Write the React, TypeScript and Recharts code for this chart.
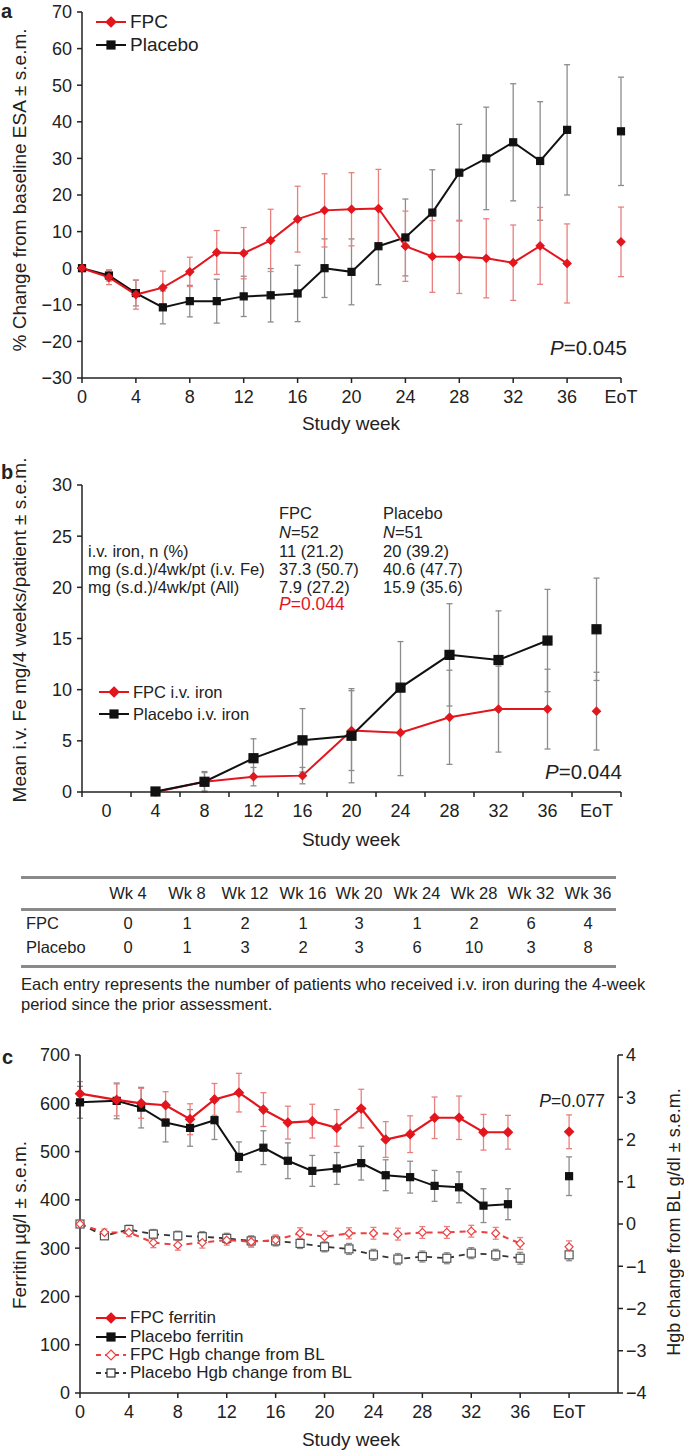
import React from 'react';
import { ComposedChart, Line, XAxis, YAxis, ErrorBar } from 'recharts';

const FONT = '"Liberation Sans", Arial, Helvetica, sans-serif';
const RED = '#e3161e';
const RED_ERR = '#e98080';
const BLACK = '#111';
const GREY_ERR = '#8c8c8c';
const INK = '#222';

// ---- panel a: % change from baseline ESA
const esaWeeks = [0, 2, 4, 6, 8, 10, 12, 14, 16, 18, 20, 22, 24, 26, 28, 30, 32, 34, 36];
const fpcEsa = [0, -2.5, -7.2, -5.3, -1.0, 4.3, 4.1, 7.6, 13.4, 15.8, 16.1, 16.3, 6.0, 3.2, 3.1, 2.7, 1.5, 6.1, 1.3];
const fpcEsaSem = [0, 2.0, 4.0, 4.5, 4.0, 6.0, 7.0, 8.5, 9.0, 10.0, 10.0, 10.7, 9.6, 9.8, 10.0, 10.8, 10.3, 10.5, 10.8];
const placeboEsa = [0, -2.0, -6.8, -10.7, -9.0, -9.0, -7.7, -7.4, -6.9, 0, -1.0, 6.0, 8.4, 15.2, 26.1, 30.0, 34.4, 29.3, 37.8];
const placeboEsaSem = [0, 1.5, 3.5, 4.5, 4.3, 6.0, 5.5, 7.3, 7.7, 8.0, 9.0, 10.5, 10.5, 11.7, 13.2, 14.0, 16.0, 16.2, 17.8];
const esaEot = { fpc: 7.2, fpcSem: 9.5, pbo: 37.4, pboSem: 14.8 };
const esaYTicks = [-30, -20, -10, 0, 10, 20, 30, 40, 50, 60, 70];

// ---- panel b: mean i.v. iron
const ivCategories = ['0', '4', '8', '12', '16', '20', '24', '28', '32', '36', 'EoT'];
const fpcIron = [null, 0, 1.0, 1.5, 1.6, 6.0, 5.8, 7.3, 8.1, 8.1, 7.9];
const fpcIronSem = [null, 0, 0.9, 0.9, 0.8, 3.9, 4.2, 4.6, 4.2, 3.9, 3.8];
const placeboIron = [null, 0.05, 1.0, 3.3, 5.05, 5.5, 10.2, 13.4, 12.9, 14.8, 15.9];
const placeboIronSem = [null, 0, 1.0, 1.9, 3.1, 4.6, 4.5, 5.0, 4.8, 5.0, 5.0];
const ivYTicks = [0, 5, 10, 15, 20, 25, 30];

// ---- table under panel b
const tableWeeks = ['Wk 4', 'Wk 8', 'Wk 12', 'Wk 16', 'Wk 20', 'Wk 24', 'Wk 28', 'Wk 32', 'Wk 36'];
const fpcCounts = [0, 1, 2, 1, 3, 1, 2, 6, 4];
const placeboCounts = [0, 1, 3, 2, 3, 6, 10, 3, 8];

// ---- panel c: ferritin and Hgb
const ferritinWeeks = [0, 3, 5, 7, 9, 11, 13, 15, 17, 19, 21, 23, 25, 27, 29, 31, 33, 35];
const fpcFerritin = [620, 607, 600, 596, 567, 608, 622, 587, 560, 563, 549, 589, 525, 536, 570, 570, 540, 540];
const fpcFerritinSem = [25, 33, 31, 28, 32, 33, 40, 35, 34, 35, 38, 40, 37, 38, 43, 45, 37, 35];
const placeboFerritin = [602, 605, 591, 560, 549, 565, 489, 508, 481, 460, 465, 476, 451, 447, 429, 426, 388, 391];
const placeboFerritinSem = [33, 37, 42, 40, 38, 40, 31, 35, 37, 32, 33, 35, 32, 33, 32, 32, 35, 32];
const ferritinEot = { fpc: 541, fpcSem: 35, pbo: 449, pboSem: 40 };
const hgbWeeks = [0, 2, 4, 6, 8, 10, 12, 14, 16, 18, 20, 22, 24, 26, 28, 30, 32, 34, 36];
const fpcHgb = [0, -0.2, -0.2, -0.44, -0.5, -0.44, -0.38, -0.42, -0.38, -0.22, -0.3, -0.22, -0.22, -0.24, -0.2, -0.2, -0.17, -0.22, -0.46];
const fpcHgbSem = [0, 0.08, 0.1, 0.12, 0.12, 0.13, 0.12, 0.13, 0.12, 0.13, 0.13, 0.13, 0.14, 0.14, 0.14, 0.14, 0.14, 0.14, 0.14];
const placeboHgb = [0, -0.28, -0.13, -0.24, -0.28, -0.3, -0.34, -0.4, -0.4, -0.46, -0.54, -0.59, -0.73, -0.83, -0.77, -0.81, -0.69, -0.73, -0.81];
const placeboHgbSem = [0, 0.08, 0.1, 0.11, 0.11, 0.12, 0.12, 0.12, 0.12, 0.12, 0.12, 0.13, 0.13, 0.13, 0.13, 0.13, 0.13, 0.13, 0.14];
const hgbEot = { fpc: -0.54, fpcSem: 0.14, pbo: -0.73, pboSem: 0.14 };
const ferritinYTicks = [0, 100, 200, 300, 400, 500, 600, 700];
const hgbYTicks = [-4, -3, -2, -1, 0, 1, 2, 3, 4];

const weekTicks = [0, 4, 8, 12, 16, 20, 24, 28, 32, 36, 40];
const fmtWeek = (v: number) => (v === 40 ? 'EoT' : String(v));
const fmtMinus = (v: number) => String(v).replace('-', '\u2212');

const esaData: any[] = esaWeeks.map((w, i) => ({
  week: w, fpc: fpcEsa[i], fpcSem: fpcEsaSem[i], pbo: placeboEsa[i], pboSem: placeboEsaSem[i],
}));
esaData.push({ week: 40, fpcEot: esaEot.fpc, fpcEotSem: esaEot.fpcSem, pboEot: esaEot.pbo, pboEotSem: esaEot.pboSem });

const ivData = ivCategories.map((c, i) => {
  const last = i === ivCategories.length - 1;
  return {
    pos: i,
    fpc: last ? null : fpcIron[i], fpcSem: last ? null : fpcIronSem[i],
    pbo: last ? null : placeboIron[i], pboSem: last ? null : placeboIronSem[i],
    fpcEot: last ? fpcIron[i] : null, fpcEotSem: last ? fpcIronSem[i] : null,
    pboEot: last ? placeboIron[i] : null, pboEotSem: last ? placeboIronSem[i] : null,
  };
});
// labels on the categories, tick marks on the boundaries between them
const ivTicks: number[] = [];
for (let i = 0; i <= ivCategories.length; i++) { ivTicks.push(i - 0.5); if (i < ivCategories.length) ivTicks.push(i); }

const cRows: Record<number, any> = {};
const row = (w: number) => (cRows[w] = cRows[w] || { week: w });
ferritinWeeks.forEach((w, i) => Object.assign(row(w), {
  fpcFer: fpcFerritin[i], fpcFerSem: fpcFerritinSem[i], pboFer: placeboFerritin[i], pboFerSem: placeboFerritinSem[i],
}));
hgbWeeks.forEach((w, i) => Object.assign(row(w), {
  fpcHgb: fpcHgb[i], fpcHgbSem: fpcHgbSem[i], pboHgb: placeboHgb[i], pboHgbSem: placeboHgbSem[i],
}));
Object.assign(row(40), {
  fpcFerEot: ferritinEot.fpc, fpcFerEotSem: ferritinEot.fpcSem, pboFerEot: ferritinEot.pbo, pboFerEotSem: ferritinEot.pboSem,
  fpcHgbEot: hgbEot.fpc, fpcHgbEotSem: hgbEot.fpcSem, pboHgbEot: hgbEot.pbo, pboHgbEotSem: hgbEot.pboSem,
});
const cData = Object.values(cRows).sort((a: any, b: any) => a.week - b.week);

// markers
const bad = (p: any) => p.cx == null || p.cy == null || isNaN(p.cy) || p.value == null;
const diamond = (stroke: string, fill: string, r: number) => (p: any) => {
  if (bad(p)) return <g key={p.index} />;
  const { cx, cy } = p;
  return <path key={p.index} d={`M${cx},${cy - r}L${cx + r},${cy}L${cx},${cy + r}L${cx - r},${cy}Z`} fill={fill} stroke={stroke} strokeWidth={1.2} />;
};
const square = (stroke: string, fill: string, r: number) => (p: any) => {
  if (bad(p)) return <g key={p.index} />;
  return <rect key={p.index} x={p.cx - r} y={p.cy - r} width={2 * r} height={2 * r} fill={fill} stroke={stroke} strokeWidth={1.2} />;
};

const tickStyle = { fontSize: 18, fill: INK, fontFamily: FONT };

const IvTick = (p: any) => {
  const v = p.payload.value;
  if (Number.isInteger(v)) {
    return <text x={p.x} y={p.y} dy="0.71em" textAnchor="middle" {...tickStyle}>{ivCategories[v]}</text>;
  }
  return <line x1={p.x} x2={p.x} y1={p.y - 12} y2={p.y - 7} stroke={INK} strokeWidth={1.5} />;
};

const abs = (left: number, top: number, extra: any = {}) => ({ position: 'absolute' as const, left, top, ...extra });
const Txt = ({ x, y, children, anchor = 'left', style = {} }: any) => (
  <div style={{
    position: 'absolute', left: x, top: y, whiteSpace: 'nowrap', lineHeight: 1,
    transform: anchor === 'center' ? 'translate(-50%,-50%)' : anchor === 'right' ? 'translate(-100%,-50%)' : 'translateY(-50%)',
    ...style,
  }}>{children}</div>
);
const VText = ({ x, y, size = 19, children }: any) => (
  <div style={{ position: 'absolute', left: x, top: y, whiteSpace: 'nowrap', lineHeight: 1, fontSize: size, transform: 'translate(-50%,-50%) rotate(-90deg)' }}>{children}</div>
);
const LegendItem = ({ x, y, color, marker, dashed, label, size = 17 }: any) => (
  <div style={abs(x, y - 10, { display: 'flex', alignItems: 'center', height: 20 })}>
    <svg width={32} height={16} style={{ display: 'block' }}>
      <line x1={1} x2={31} y1={8} y2={8} stroke={color} strokeWidth={2} strokeDasharray={dashed ? '5 4' : undefined} />
      {marker === 'diamond' && <path d="M16,3L21,8L16,13L11,8Z" fill={dashed ? '#fff' : color} stroke={color} strokeWidth={1.2} />}
      {marker === 'square' && <rect x={12} y={4} width={8} height={8} fill={dashed ? '#fff' : color} stroke={color} strokeWidth={1.2} />}
    </svg>
    <span style={{ fontSize: size, marginLeft: 3 }}>{label}</span>
  </div>
);
const Hr = ({ y }: any) => <div style={abs(21, y - 1, { width: 595, height: 2.5, background: '#8a8a8a' })} />;

export default function App() {
  const tableCols = [128, 187, 245, 303, 359, 417, 474, 531, 588];
  return (
    <div style={{ position: 'absolute', left: 0, top: 0, width: 684, height: 1450, background: '#fff', fontFamily: FONT, color: INK }}>
      {/* panel a */}
      <div style={abs(0, 0)}>
        <ComposedChart width={684} height={440} data={esaData} margin={{ top: 12, right: 63, bottom: 32, left: 0 }}>
          <XAxis dataKey="week" type="number" domain={[0, 40]} ticks={weekTicks} interval={0} tickFormatter={fmtWeek}
            height={30} stroke={INK} strokeWidth={1.5} tick={tickStyle} tickSize={5} tickMargin={7} />
          <YAxis type="number" domain={[-30, 70]} ticks={esaYTicks} interval={0} tickFormatter={fmtMinus}
            width={82} stroke={INK} strokeWidth={1.5} tick={tickStyle} tickSize={5} tickMargin={5} />
          <Line dataKey="pbo" stroke={BLACK} strokeWidth={2} dot={square(BLACK, BLACK, 3.5)} isAnimationActive={false}>
            <ErrorBar dataKey="pboSem" width={3} stroke={GREY_ERR} strokeWidth={1.3} />
          </Line>
          <Line dataKey="pboEot" stroke={BLACK} strokeWidth={2} dot={square(BLACK, BLACK, 3.5)} isAnimationActive={false}>
            <ErrorBar dataKey="pboEotSem" width={3} stroke={GREY_ERR} strokeWidth={1.3} />
          </Line>
          <Line dataKey="fpc" stroke={RED} strokeWidth={2} dot={diamond(RED, RED, 4)} isAnimationActive={false}>
            <ErrorBar dataKey="fpcSem" width={3} stroke={RED_ERR} strokeWidth={1.3} />
          </Line>
          <Line dataKey="fpcEot" stroke={RED} strokeWidth={2} dot={diamond(RED, RED, 4)} isAnimationActive={false}>
            <ErrorBar dataKey="fpcEotSem" width={3} stroke={RED_ERR} strokeWidth={1.3} />
          </Line>
        </ComposedChart>
      </div>
      <Txt x={1} y={11} style={{ fontWeight: 'bold', fontSize: 20 }}>a</Txt>
      <VText x={19} y={190}>% Change from baseline ESA ± s.e.m.</VText>
      <LegendItem x={95} y={22} color={RED} marker="diamond" label="FPC" size={19} />
      <LegendItem x={95} y={45} color={BLACK} marker="square" label="Placebo" size={19} />
      <Txt x={627} y={348} anchor="right" style={{ fontSize: 20.5 }}><i>P</i>=0.045</Txt>
      <Txt x={351} y={423} anchor="center" style={{ fontSize: 19 }}>Study week</Txt>

      {/* panel b */}
      <div style={abs(0, 440)}>
        <ComposedChart width={684} height={400} data={ivData} margin={{ top: 45, right: 63, bottom: 18, left: 0 }}>
          <XAxis dataKey="pos" type="number" domain={[-0.5, ivCategories.length - 0.5]} ticks={ivTicks} interval={0}
            height={30} stroke={INK} strokeWidth={1.5} tick={<IvTick />} tickLine={false} tickSize={5} tickMargin={7} />
          <YAxis type="number" domain={[0, 30]} ticks={ivYTicks} interval={0}
            width={82} stroke={INK} strokeWidth={1.5} tick={tickStyle} tickSize={5} tickMargin={5} />
          <Line dataKey="fpc" stroke={RED} strokeWidth={2} dot={diamond(RED, RED, 4)} isAnimationActive={false}>
            <ErrorBar dataKey="fpcSem" width={3} stroke={GREY_ERR} strokeWidth={1.3} />
          </Line>
          <Line dataKey="fpcEot" stroke={RED} strokeWidth={2} dot={diamond(RED, RED, 4)} isAnimationActive={false}>
            <ErrorBar dataKey="fpcEotSem" width={3} stroke={GREY_ERR} strokeWidth={1.3} />
          </Line>
          <Line dataKey="pbo" stroke={BLACK} strokeWidth={2} dot={square(BLACK, BLACK, 4.5)} isAnimationActive={false}>
            <ErrorBar dataKey="pboSem" width={3} stroke={GREY_ERR} strokeWidth={1.3} />
          </Line>
          <Line dataKey="pboEot" stroke={BLACK} strokeWidth={2} dot={square(BLACK, BLACK, 4.5)} isAnimationActive={false}>
            <ErrorBar dataKey="pboEotSem" width={3} stroke={GREY_ERR} strokeWidth={1.3} />
          </Line>
        </ComposedChart>
      </div>
      <Txt x={1} y={472} style={{ fontWeight: 'bold', fontSize: 20 }}>b</Txt>
      <VText x={19} y={630}>Mean i.v. Fe mg/4 weeks/patient ± s.e.m.</VText>
      <div style={{ fontSize: 16.5 }}>
        <Txt x={279} y={513}>FPC</Txt>
        <Txt x={383} y={513}>Placebo</Txt>
        <Txt x={279} y={532}><i>N</i>=52</Txt>
        <Txt x={383} y={532}><i>N</i>=51</Txt>
        <Txt x={88} y={551}>i.v. iron, n (%)</Txt>
        <Txt x={279} y={551}>11 (21.2)</Txt>
        <Txt x={383} y={551}>20 (39.2)</Txt>
        <Txt x={88} y={569}>mg (s.d.)/4wk/pt (i.v. Fe)</Txt>
        <Txt x={279} y={569}>37.3 (50.7)</Txt>
        <Txt x={383} y={569}>40.6 (47.7)</Txt>
        <Txt x={88} y={587}>mg (s.d.)/4wk/pt (All)</Txt>
        <Txt x={279} y={587}>7.9 (27.2)</Txt>
        <Txt x={383} y={587}>15.9 (35.6)</Txt>
        <Txt x={279} y={605} style={{ color: RED, fontSize: 17.5 }}><i>P</i>=0.044</Txt>
      </div>
      <LegendItem x={98} y={692} color={RED} marker="diamond" label="FPC i.v. iron" size={16.5} />
      <LegendItem x={98} y={714} color={BLACK} marker="square" label="Placebo i.v. iron" size={16.5} />
      <Txt x={622} y={772} anchor="right" style={{ fontSize: 20.5 }}><i>P</i>=0.044</Txt>
      <Txt x={351} y={839} anchor="center" style={{ fontSize: 19 }}>Study week</Txt>

      {/* table */}
      <Hr y={877} />
      <Hr y={909} />
      <Hr y={966} />
      <div style={{ fontSize: 16.5 }}>
        {tableWeeks.map((w, i) => <Txt key={w} x={tableCols[i]} y={893} anchor="center">{w}</Txt>)}
        <Txt x={26} y={923}>FPC</Txt>
        <Txt x={26} y={947}>Placebo</Txt>
        {fpcCounts.map((n, i) => <Txt key={'f' + i} x={tableCols[i]} y={923} anchor="center">{n}</Txt>)}
        {placeboCounts.map((n, i) => <Txt key={'p' + i} x={tableCols[i]} y={947} anchor="center">{n}</Txt>)}
        <Txt x={21} y={984}>Each entry represents the number of patients who received i.v. iron during the 4-week</Txt>
        <Txt x={21} y={1004}>period since the prior assessment.</Txt>
      </div>

      {/* panel c */}
      <div style={abs(0, 1040)}>
        <ComposedChart width={684} height={410} data={cData} margin={{ top: 15, right: 0, bottom: 27, left: 0 }}>
          <XAxis dataKey="week" type="number" domain={[0, 44]} ticks={weekTicks} interval={0} tickFormatter={fmtWeek}
            height={30} stroke={INK} strokeWidth={1.5} tick={tickStyle} tickSize={5} tickMargin={7} />
          <YAxis yAxisId="l" type="number" domain={[0, 700]} ticks={ferritinYTicks} interval={0}
            width={80} stroke={INK} strokeWidth={1.5} tick={tickStyle} tickSize={5} tickMargin={5} />
          <YAxis yAxisId="r" orientation="right" type="number" domain={[-4, 4]} ticks={hgbYTicks} interval={0} tickFormatter={fmtMinus}
            width={66} stroke={INK} strokeWidth={1.5} tick={tickStyle} tickSize={5} tickMargin={3} />
          <Line yAxisId="l" dataKey="pboFer" connectNulls stroke={BLACK} strokeWidth={2} dot={square(BLACK, BLACK, 3.5)} isAnimationActive={false}>
            <ErrorBar dataKey="pboFerSem" width={3} stroke={GREY_ERR} strokeWidth={1.3} />
          </Line>
          <Line yAxisId="l" dataKey="pboFerEot" stroke={BLACK} strokeWidth={2} dot={square(BLACK, BLACK, 3.5)} isAnimationActive={false}>
            <ErrorBar dataKey="pboFerEotSem" width={3} stroke={GREY_ERR} strokeWidth={1.3} />
          </Line>
          <Line yAxisId="l" dataKey="fpcFer" connectNulls stroke={RED} strokeWidth={2.2} dot={diamond(RED, RED, 4.5)} isAnimationActive={false}>
            <ErrorBar dataKey="fpcFerSem" width={3} stroke={RED_ERR} strokeWidth={1.3} />
          </Line>
          <Line yAxisId="l" dataKey="fpcFerEot" stroke={RED} strokeWidth={2} dot={diamond(RED, RED, 4.5)} isAnimationActive={false}>
            <ErrorBar dataKey="fpcFerEotSem" width={3} stroke={RED_ERR} strokeWidth={1.3} />
          </Line>
          <Line yAxisId="r" dataKey="pboHgb" connectNulls stroke="#333" strokeWidth={1.8} strokeDasharray="6 5" dot={square('#555', '#fff', 4)} isAnimationActive={false}>
            <ErrorBar dataKey="pboHgbSem" width={3} stroke={GREY_ERR} strokeWidth={1.3} />
          </Line>
          <Line yAxisId="r" dataKey="pboHgbEot" stroke="#333" strokeWidth={1.8} dot={square('#555', '#fff', 4)} isAnimationActive={false}>
            <ErrorBar dataKey="pboHgbEotSem" width={3} stroke={GREY_ERR} strokeWidth={1.3} />
          </Line>
          <Line yAxisId="r" dataKey="fpcHgb" connectNulls stroke="#ee4040" strokeWidth={2} strokeDasharray="6 5" dot={diamond('#ee4040', '#fff', 4)} isAnimationActive={false}>
            <ErrorBar dataKey="fpcHgbSem" width={3} stroke={RED_ERR} strokeWidth={1.3} />
          </Line>
          <Line yAxisId="r" dataKey="fpcHgbEot" stroke="#ee4040" strokeWidth={2} dot={diamond('#ee4040', '#fff', 4)} isAnimationActive={false}>
            <ErrorBar dataKey="fpcHgbEotSem" width={3} stroke={RED_ERR} strokeWidth={1.3} />
          </Line>
        </ComposedChart>
      </div>
      <Txt x={2} y={1057} style={{ fontWeight: 'bold', fontSize: 20 }}>c</Txt>
      <VText x={19} y={1225}>Ferritin µg/l ± s.e.m.</VText>
      <VText x={674} y={1222} size={18}>Hgb change from BL g/dl ± s.e.m.</VText>
      <Txt x={605} y={1102} anchor="right" style={{ fontSize: 17.5 }}><i>P</i>=0.077</Txt>
      <LegendItem x={95} y={1318} color={RED} marker="diamond" label="FPC ferritin" />
      <LegendItem x={95} y={1337} color={BLACK} marker="square" label="Placebo ferritin" />
      <LegendItem x={95} y={1355} color="#ee4040" marker="diamond" dashed label="FPC Hgb change from BL" />
      <LegendItem x={95} y={1373} color="#333" marker="square" dashed label="Placebo Hgb change from BL" />
      <Txt x={351} y={1439} anchor="center" style={{ fontSize: 19 }}>Study week</Txt>
    </div>
  );
}
